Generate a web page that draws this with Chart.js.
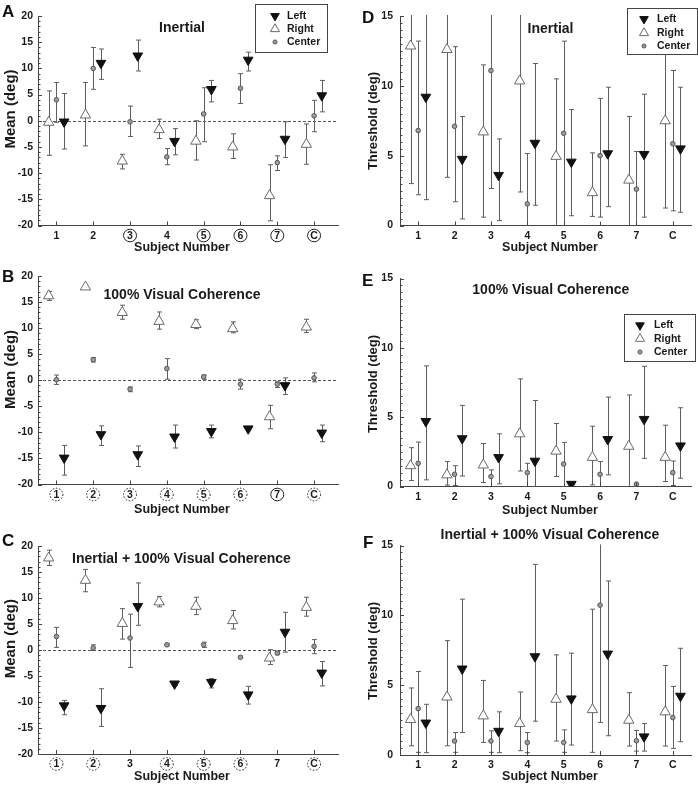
<!DOCTYPE html>
<html>
<head>
<meta charset="utf-8">
<title>Heading perception: means and thresholds by subject</title>
<script src="https://cdn.jsdelivr.net/npm/chart.js"></script>
<style>
  body { margin: 0; background: #fff; }
  #fig { position: relative; width: 698px; height: 785px; overflow: hidden; }
  #fig canvas { position: absolute; }
  .tag { position: absolute; font: bold 17px/17px "Liberation Sans", Arial, sans-serif; color: #111; }
</style>
</head>
<body>
<div id="fig">
  <canvas id="cA"></canvas>
  <canvas id="cB"></canvas>
  <canvas id="cC"></canvas>
  <canvas id="cD"></canvas>
  <canvas id="cE"></canvas>
  <canvas id="cF"></canvas>
  <div class="tag" style="left:2px;top:3px">A</div>
  <div class="tag" style="left:2px;top:268px">B</div>
  <div class="tag" style="left:2px;top:532px">C</div>
  <div class="tag" style="left:362px;top:9px">D</div>
  <div class="tag" style="left:362px;top:272px">E</div>
  <div class="tag" style="left:363px;top:534px">F</div>
</div>
<script>
const subjects = ['1', '2', '3', '4', '5', '6', '7', 'C'];
const meanTicks = [-20, -15, -10, -5, 0, 5, 10, 15, 20];
const thresholdTicks = [0, 5, 10, 15];

// each row: [value, bottom of error bar, top of error bar], one row per subject
const A_left   = [[-0.2, -5.4, 5.2], [11.0, 7.9, 13.7], [12.4, 9.5, 15.4], [-3.9, -6.5, -1.5], [6.0, 3.6, 7.7], [11.6, 9.5, 13.1], [-3.5, -7.0, -0.2], [4.8, 1.7, 7.7]];
const A_right  = [[-0.3, -6.6, 5.7], [1.1, -4.8, 7.3], [-7.7, -9.2, -6.4], [-1.7, -3.4, 0.3], [-3.9, -7.5, 0.0], [-5.0, -7.2, -2.5], [-14.3, -19.1, -8.4], [-4.5, -8.3, -0.6]];
const A_center = [[4.0, -0.3, 7.3], [10.0, 6.0, 14.0], [-0.2, -3.0, 2.8], [-6.9, -8.4, -5.3], [1.3, -4.0, 6.3], [6.2, 3.3, 9.0], [-8.0, -9.5, -6.7], [0.95, -2.1, 3.9]];

const B_left   = [[-14.9, -18.2, -12.5], [-10.4, -12.5, -8.75], [-14.25, -16.55, -12.6], [-10.85, -13.0, -8.6], [-9.8, -11.05, -8.6], [-9.3, -9.5, -9.0], [-1.0, -2.75, 0.45], [-10.1, -11.8, -8.6]];
const B_right  = [[16.2, 15.3, 17.05], [17.9, 17.9, 17.9], [13.0, 11.7, 14.4], [11.3, 9.8, 13.1], [10.7, 9.9, 11.6], [9.9, 9.1, 11.2], [-7.0, -9.3, -4.8], [10.2, 9.15, 11.7]];
const B_center = [[0.1, -0.8, 1.0], [3.95, 3.5, 4.35], [-1.7, -2.2, -1.3], [2.25, 0.2, 4.15], [0.65, 0.2, 1.0], [-0.75, -1.7, 0.2], [-0.75, -1.4, -0.3], [0.45, -0.3, 1.4]];

const C_left   = [[-10.7, -12.45, -9.7], [-11.2, -14.7, -7.45], [8.4, 4.75, 12.9], [-6.5, -6.8, -6.2], [-6.2, -7.3, -5.5], [-8.6, -10.4, -7.0], [3.45, -0.4, 7.25], [-4.4, -6.9, -2.2]];
const C_right  = [[17.7, 16.25, 19.2], [13.4, 11.2, 15.5], [5.1, 2.1, 7.95], [9.25, 8.3, 10.3], [8.4, 6.8, 10.15], [5.65, 4.05, 7.6], [-1.55, -2.8, 0.06], [8.2, 6.5, 10.15]];
const C_center = [[2.6, 0.5, 4.35], [0.4, -0.1, 1.0], [2.3, -3.35, 6.9], [1.0, 0.8, 1.2], [1.0, 0.5, 1.5], [-1.4, -1.6, -1.2], [-0.6, -0.9, -0.3], [0.7, -0.7, 2.0]];

const D_left   = [[9.2, 1.85, 20], [4.75, 0.47, 7.8], [3.6, 0.35, 6.2], [5.9, 1.45, 11.6], [4.55, 0.7, 8.3], [5.15, 1.35, 9.9], [5.1, 0.6, 9.4], [5.5, 0.95, 9.9]];
const D_right  = [[12.85, 3.0, 22], [12.6, 3.45, 22], [6.7, 0.6, 11.5], [10.35, 2.4, 20], [4.95, -1, 10.5], [2.35, 0.65, 5.2], [3.25, -1, 7.8], [7.5, 1.25, 16]];
const D_center = [[6.8, 2.2, 13.2], [7.1, 1.7, 12.8], [11.1, 2.65, 20], [1.55, -1, 5.15], [6.6, -1, 13.2], [5.0, 0.6, 9.1], [2.6, -1, 5.3], [5.85, 1.05, 11.1]];

const E_left   = [[4.7, 0.48, 8.7], [3.46, 0.76, 5.85], [2.1, 0.19, 3.8], [1.84, -1, 6.2], [0.17, 0.17, 0.17], [3.4, 0.84, 6.45], [4.85, 2.03, 8.67], [2.94, 0.6, 5.68]];
const E_right  = [[1.5, 0.43, 2.8], [0.84, 0.1, 1.8], [1.55, 0.29, 3.1], [3.8, 1.12, 7.76], [2.55, 0.72, 4.54], [2.1, 0.12, 4.35], [2.9, -1, 6.6], [2.1, 0.36, 4.42]];
const E_center = [[1.67, -1, 3.2], [0.88, 0.07, 1.5], [0.72, -1, 1.2], [1.0, -1, 1.67], [1.62, -1, 3.18], [0.88, -1, 1.8], [0.17, 0.17, 0.17], [1.0, 0.07, 1.84]];

const F_left   = [[2.3, 0.17, 3.63], [6.17, 1.61, 11.16], [1.71, 0.17, 3.09], [7.05, 2.42, 13.65], [4.03, 0.71, 7.29], [7.24, 1.38, 12.46], [1.31, 0.28, 2.25], [4.22, 0.95, 7.64]];
const F_right  = [[2.54, 0.66, 4.8], [4.15, 0.66, 8.19], [2.8, 0.9, 5.34], [2.25, 0.31, 4.51], [3.99, 1.0, 7.17], [3.25, 0.19, 10.44], [2.49, 0.64, 4.46], [3.09, 0.64, 6.41]];
const F_center = [[3.32, 0.19, 5.98], [1.0, 0.19, 1.61], [1.0, 0.19, 1.73], [0.9, 0.17, 1.61], [0.9, 0.19, 1.8], [10.73, 2.33, 20], [1.02, 0.28, 1.76], [2.68, 0.47, 4.91]];

const FONT = '"Liberation Sans", Arial, sans-serif';
const ink = '#1a1a1a';
const barGrey = '#5e5e5e';

// marker look per direction, and horizontal shift from the subject position
const markers = {
  Left:   { pointStyle: 'triangle', rotation: 180, radius: 5.6, fill: '#111', line: '#111' },
  Right:  { pointStyle: 'triangle', rotation: 0,   radius: 6,   fill: '#fff', line: '#6a6a6a' },
  Center: { pointStyle: 'circle',   rotation: 0,   radius: 2.3, fill: '#9c9c9c', line: '#555' }
};
const shifts = { Left: 0.21, Right: -0.21, Center: 0 };

function points(rows, shift) {
  return rows.map((r, i) => ({ x: i + 1 + shift, y: r[0], lo: r[1], hi: r[2] }));
}

function drawMark(ctx, m, x, y, r) {
  ctx.fillStyle = m.fill;
  ctx.strokeStyle = m.line;
  ctx.lineWidth = 1;
  Chart.helpers.drawPoint(ctx, { pointStyle: m.pointStyle, rotation: m.rotation, radius: r, borderWidth: 1 }, x, y);
}

const decor = {
  id: 'decor',
  beforeDatasetsDraw(chart, args, o) {
    const { ctx, chartArea: a, scales: { x, y } } = chart;
    ctx.save();
    ctx.beginPath();
    ctx.rect(a.left, a.top - 1, a.right - a.left, a.bottom - a.top + 1);
    ctx.clip();
    if (o.zeroLine) {
      const y0 = Math.round(y.getPixelForValue(0)) + 0.5;
      ctx.strokeStyle = '#555';
      ctx.lineWidth = 1;
      ctx.setLineDash([3, 2]);
      ctx.beginPath(); ctx.moveTo(a.left, y0); ctx.lineTo(a.right, y0); ctx.stroke();
      ctx.setLineDash([]);
    }
    // error bars
    ctx.strokeStyle = barGrey;
    ctx.lineWidth = 1;
    chart.data.datasets.forEach(ds => {
      ds.data.forEach(p => {
        const px = Math.round(x.getPixelForValue(p.x)) + 0.5;
        const y1 = y.getPixelForValue(p.lo), y2 = y.getPixelForValue(p.hi);
        ctx.beginPath();
        ctx.moveTo(px, y1); ctx.lineTo(px, y2);
        if (p.lo >= y.min) { ctx.moveTo(px - 2.5, y1); ctx.lineTo(px + 2.5, y1); }
        if (p.hi <= y.max) { ctx.moveTo(px - 2.5, y2); ctx.lineTo(px + 2.5, y2); }
        ctx.stroke();
      });
    });
    ctx.restore();
  },
  afterDraw(chart, args, o) {
    const { ctx, chartArea: a, scales: { x, y } } = chart;
    ctx.save();
    // small inward tick marks
    ctx.strokeStyle = '#444';
    ctx.lineWidth = 1;
    ctx.beginPath();
    for (let v = y.min; v <= y.max + 1e-9; v += o.minorStep) {
      const py = Math.round(y.getPixelForValue(v)) + 0.5;
      const len = Math.abs(v % 5) < 1e-9 ? 4 : 2.5;
      ctx.moveTo(a.left, py); ctx.lineTo(a.left + len, py);
    }
    subjects.forEach((s, i) => {
      const px = Math.round(x.getPixelForValue(i + 1)) + 0.5;
      ctx.moveTo(px, a.bottom); ctx.lineTo(px, a.bottom - 4);
    });
    ctx.stroke();

    // circles around some subject labels
    (o.circles || []).forEach((c, i) => {
      if (!c) return;
      const px = x.getPixelForValue(i + 1);
      ctx.strokeStyle = '#222';
      ctx.lineWidth = 1;
      ctx.setLineDash(c === 'dash' ? [1.6, 1.6] : []);
      ctx.beginPath();
      ctx.ellipse(px, a.bottom + 10, 6.5, 6.3, 0, 0, Math.PI * 2);
      ctx.stroke();
    });
    ctx.setLineDash([]);

    // legend box
    if (o.legend) {
      const L = o.legend, ox = o.origin[0], oy = o.origin[1];
      ctx.fillStyle = '#fff';
      ctx.fillRect(L.x - ox, L.y - oy, L.w, L.h);
      ctx.strokeStyle = '#444';
      ctx.strokeRect(Math.round(L.x - ox) + 0.5, Math.round(L.y - oy) + 0.5, L.w, L.h);
      chart.data.datasets.forEach((ds, i) => {
        const m = markers[ds.label];
        drawMark(ctx, m, L.symX - ox, L.rows[i] - oy, m.radius * 0.88);
        ctx.fillStyle = ink;
        ctx.font = 'bold 10.5px ' + FONT;
        ctx.textAlign = 'left';
        ctx.textBaseline = 'middle';
        ctx.fillText(ds.label, L.textX - ox, L.rows[i] - oy);
      });
    }

    // panel titles and axis titles
    (o.texts || []).forEach(t => {
      ctx.save();
      ctx.translate(t.x - o.origin[0], t.y - o.origin[1]);
      if (t.rot) ctx.rotate(-Math.PI / 2);
      ctx.font = t.font;
      ctx.fillStyle = ink;
      ctx.textAlign = 'center';
      ctx.textBaseline = 'middle';
      ctx.fillText(t.text, 0, 0);
      ctx.restore();
    });
    ctx.restore();
  }
};

function makePanel(id, p) {
  const [bx, by, bw, bh] = p.box;     // canvas placement on the page
  const [L, T, R, B] = p.area;        // plot area on the page
  const cv = document.getElementById(id);
  cv.width = bw; cv.height = bh;
  cv.style.left = bx + 'px';
  cv.style.top = by + 'px';

  const tickFont = { family: FONT, size: 10.5, weight: 'bold' };
  const datasets = p.series.map(([name, rows]) => ({
    label: name,
    data: points(rows, shifts[name]),
    pointStyle: markers[name].pointStyle,
    pointRotation: markers[name].rotation,
    pointRadius: markers[name].radius,
    pointBackgroundColor: markers[name].fill,
    pointBorderColor: markers[name].line,
    pointBorderWidth: 1,
    showLine: false
  }));

  const yTitle = p.yTitle, xTitle = 'Subject Number';
  new Chart(cv, {
    type: 'scatter',
    data: { datasets },
    plugins: [decor],
    options: {
      responsive: false,
      animation: false,
      events: [],
      layout: { padding: { left: 0, bottom: 0, top: T - by, right: bx + bw - R } },
      plugins: {
        legend: { display: false },
        tooltip: { enabled: false },
        decor: {
          origin: [bx, by],
          zeroLine: p.zeroLine,
          minorStep: p.minorStep,
          circles: p.circles,
          legend: p.legend,
          texts: [
            { text: p.title, x: p.titlePos[0], y: p.titlePos[1], font: 'bold 14px ' + FONT },
            { text: xTitle, x: p.xTitlePos[0], y: p.xTitlePos[1], font: 'bold 12.5px ' + FONT },
            { text: yTitle, x: p.yTitlePos[0], y: p.yTitlePos[1], font: 'bold ' + p.yTitleSize + 'px ' + FONT, rot: true }
          ]
        }
      },
      scales: {
        x: {
          type: 'linear',
          min: p.xRange[0],
          max: p.xRange[1],
          grid: { display: false, drawTicks: false },
          border: { color: '#444', width: 1 },
          afterBuildTicks: s => { s.ticks = subjects.map((_, i) => ({ value: i + 1 })); },
          afterFit: s => { s.height = by + bh - B; },
          ticks: { autoSkip: false, maxRotation: 0, padding: 4, color: ink, font: tickFont,
                   callback: v => subjects[v - 1] }
        },
        y: {
          type: 'linear',
          min: p.yRange[0],
          max: p.yRange[1],
          grid: { display: false, drawTicks: false },
          border: { color: '#444', width: 1 },
          afterBuildTicks: s => { s.ticks = p.yTicks.map(v => ({ value: v })); },
          afterFit: s => { s.width = L - bx; },
          ticks: { padding: p.yPad, color: ink, font: tickFont }
        }
      }
    }
  });
}

const meanSeries = (l, r, c) => [['Left', l], ['Right', r], ['Center', c]];

makePanel('cA', {
  box: [0, 0, 345, 262], area: [38, 16, 340, 225.5],
  series: meanSeries(A_left, A_right, A_center),
  xRange: [0.5, 8.65], yRange: [-20, 20], yTicks: meanTicks, minorStep: 1, yPad: 5,
  zeroLine: true,
  circles: ['', '', 'solid', '', 'solid', 'solid', 'solid', 'solid'],
  legend: { x: 255, y: 4, w: 72, h: 48, symX: 275, textX: 287, rows: [16, 29, 42] },
  title: 'Inertial', titlePos: [182, 28.5],
  xTitlePos: [182, 247.5],
  yTitle: 'Mean (deg)', yTitleSize: 15, yTitlePos: [11, 109]
});

makePanel('cB', {
  box: [0, 262, 345, 262], area: [38, 276, 340, 484.5],
  series: meanSeries(B_left, B_right, B_center),
  xRange: [0.5, 8.65], yRange: [-20, 20], yTicks: meanTicks, minorStep: 1, yPad: 5,
  zeroLine: true,
  circles: ['dash', 'dash', 'dash', 'dash', 'dash', 'dash', 'solid', 'dash'],
  title: '100% Visual Coherence', titlePos: [182, 294.7],
  xTitlePos: [182, 509.5],
  yTitle: 'Mean (deg)', yTitleSize: 15, yTitlePos: [11, 369.5]
});

makePanel('cC', {
  box: [0, 524, 345, 261], area: [38, 546, 340, 754],
  series: meanSeries(C_left, C_right, C_center),
  xRange: [0.5, 8.65], yRange: [-20, 20], yTicks: meanTicks, minorStep: 1, yPad: 5,
  zeroLine: true,
  circles: ['dash', 'dash', '', 'dash', 'dash', 'dash', '', 'dash'],
  title: 'Inertial + 100% Visual Coherence', titlePos: [181.5, 558.7],
  xTitlePos: [182, 777],
  yTitle: 'Mean (deg)', yTitleSize: 15, yTitlePos: [11, 638.7]
});

makePanel('cD', {
  box: [345, 0, 353, 262], area: [400, 16, 695, 225.5],
  series: meanSeries(D_left, D_right, D_center),
  xRange: [0.5, 8.5], yRange: [0, 15], yTicks: thresholdTicks, minorStep: 0.5, yPad: 7,
  zeroLine: false,
  legend: { x: 627, y: 8, w: 70, h: 46, symX: 644, textX: 657, rows: [19, 33, 46] },
  title: 'Inertial', titlePos: [550.5, 29.3],
  xTitlePos: [550, 248],
  yTitle: 'Threshold (deg)', yTitleSize: 13, yTitlePos: [373, 121]
});

makePanel('cE', {
  box: [345, 262, 353, 262], area: [400, 278.5, 695, 486.5],
  series: meanSeries(E_left, E_right, E_center),
  xRange: [0.5, 8.5], yRange: [0, 15], yTicks: thresholdTicks, minorStep: 0.5, yPad: 7,
  zeroLine: false,
  legend: { x: 624, y: 314, w: 71, h: 47, symX: 640, textX: 654, rows: [325.3, 338.7, 352] },
  title: '100% Visual Coherence', titlePos: [550.8, 290.3],
  xTitlePos: [550, 510.3],
  yTitle: 'Threshold (deg)', yTitleSize: 13, yTitlePos: [373, 384]
});

makePanel('cF', {
  box: [345, 524, 353, 261], area: [400, 545.5, 694, 755],
  series: meanSeries(F_left, F_right, F_center),
  xRange: [0.5, 8.5], yRange: [0, 15], yTicks: thresholdTicks, minorStep: 0.5, yPad: 7,
  zeroLine: false,
  title: 'Inertial + 100% Visual Coherence', titlePos: [550, 535.3],
  xTitlePos: [550, 777],
  yTitle: 'Threshold (deg)', yTitleSize: 13, yTitlePos: [373, 651]
});
</script>
</body>
</html>
